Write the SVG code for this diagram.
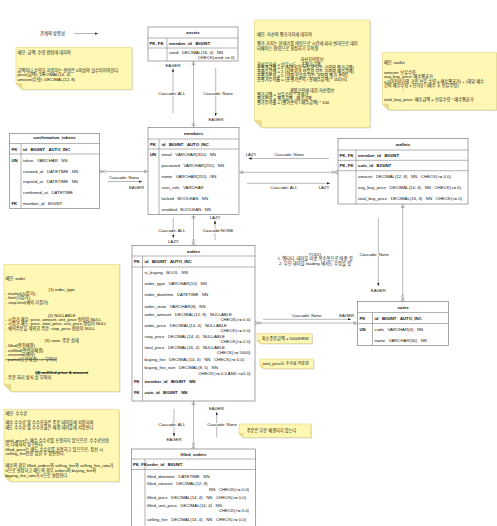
<svg xmlns="http://www.w3.org/2000/svg" width="497" height="526" viewBox="0 0 497 526" xml:space="preserve">
<style>
text{font-family:"Liberation Sans","Noto Sans CJK KR",sans-serif;font-size:4.3px;fill:#111;white-space:pre}
.n text{font-size:4.2px}
.b{font-weight:bold}
.h{font-weight:bold;text-anchor:middle}
.r{text-anchor:end}
.c{text-anchor:middle}
.s{text-decoration:line-through}
.box{fill:#fff;stroke:#7f7f7f;stroke-width:0.7}
.sep{stroke:#7f7f7f;stroke-width:0.6}
.con{stroke:#8a8a8a;stroke-width:0.6;fill:none}
.lbl{text-anchor:middle;paint-order:stroke;stroke:#fff;stroke-width:1.6px;stroke-linejoin:round}
.note{fill:#fff8b4;stroke:#dccb6e;stroke-width:0.5}
.fold{fill:#ebdc8c;stroke:#dccb6e;stroke-width:0.4}
.shd{fill:#000;opacity:0.13}
</style>
<defs>
<marker id="one" viewBox="-8 -3 9 6" refX="0" refY="0" markerWidth="9" markerHeight="6" markerUnits="userSpaceOnUse" orient="auto-start-reverse"><path d="M-2,-1.8V1.8M-3.6,-1.8V1.8" stroke="#7f7f7f" stroke-width="0.6" fill="none"/></marker>
<marker id="many" viewBox="-8 -3 9 6" refX="0" refY="0" markerWidth="9" markerHeight="6" markerUnits="userSpaceOnUse" orient="auto-start-reverse"><path d="M-3.5,0L0,-2M-3.5,0L0,2" stroke="#7f7f7f" stroke-width="0.6" fill="none"/><circle cx="-5" cy="0" r="1.2" fill="#fff" stroke="#7f7f7f" stroke-width="0.6"/></marker>
<marker id="arr" viewBox="0 0 4 3" refX="4" refY="1.5" markerWidth="3.2" markerHeight="2.4" markerUnits="userSpaceOnUse" orient="auto-start-reverse"><path d="M0,0L4,1.5L0,3Z" fill="#222"/></marker>
</defs>

<g id="notes" class="n">
<g id="note-amount">
<path class="shd" d="M17,48.5H133V90.5H23L17,84.5Z"/>
<path class="note" d="M16,47.5H132V89.5H22L16,83.5Z"/><path class="fold" d="M16,83.5H22V89.5Z"/>
<text x="17.5" y="53.8">메모: 금액, 수량 컬럼에 대하여</text>
<text x="17.5" y="72.2">금액이나 수량을 저장하는 컬럼은 0이상의 실수이어야한다.</text>
<text x="17.5" y="76.3">price(금액): DECIMAL(14, 4)</text>
<text x="17.5" y="80.5">amount(수량): DECIMAL(12, 8)</text>
</g>
<g id="note-asset">
<path class="shd" d="M255.5,21H371V128.5H262.5L255.5,121.5Z"/>
<path class="note" d="M254.5,20H370V127.5H261.5L254.5,120.5Z"/><path class="fold" d="M254.5,120.5H261.5V127.5Z"/>
<text x="257" y="35.8">메모: 자산의 평가가치에 대하여</text>
<text x="257" y="44.8">평가 가치는 현재가를 바탕으로 시간에 따라 변하므로 데이</text>
<text x="257" y="49.8">터베이스 컬럼으로 설정하기 부적절</text>
<text class="c" x="312" y="60.8">자산요약정보</text>
<text x="257" y="65.5">총보유자산 = 보유시드 + 총평가금액</text>
<text x="257" y="69.4">총평가금액 = Σ (사용자가 보유한 모든 코인의 평가금액)</text>
<text x="257" y="73.3">총매수금액 = Σ (사용자가 보유한 모든 코인의 매수금액)</text>
<text x="257" y="77.2">총평가손익 = Σ (현재 보유한 모든 코인의 평가 손익)</text>
<text x="257" y="81.1">총평가수익률 = (총평가손익 / 총매수금액) * 100(%)</text>
<text class="c" x="312" y="91.5">개별코인에 대한 자산정보</text>
<text x="257" y="95.8">평가금액 = 보유수량 * 현재가</text>
<text x="257" y="100">평가손익 = 평가금액 - 매수금액</text>
<text x="257" y="104.2">평가수익률 = (평가손익 / 매수금액) * 100</text>
</g>
<g id="note-wallet">
<path class="shd" d="M383.5,53.5H497.5V111H389.5L383.5,105Z"/>
<path class="note" d="M382.5,52.5H496.5V110H388.5L382.5,104Z"/><path class="fold" d="M382.5,104H388.5V110Z"/>
<text x="384" y="64.2">메모: wallet</text>
<text x="384" y="74.2">amount: 보유수량</text>
<text x="384" y="78.3">avg_buy_price: 매수평균가</text>
<text x="384" y="82.5">= [(이전까지의 코인 보유 수량 x 매수평균가) + (해당 매수</text>
<text x="384" y="86.6">건의 매수수량 x 단가)] / (매수 후 보유수량)</text>
<text class="c" x="403" y="90.8">↑</text>
<text x="384" y="100.5">total_buy_price: 매수금액 = 보유수량 * 매수평균가</text>
</g>
<g id="note-order">
<path class="shd" d="M5,265.5H120.5V392.5H12L5,385.5Z"/>
<path class="note" d="M4,264.5H119.5V391.5H11L4,384.5Z"/><path class="fold" d="M4,384.5H11V391.5Z"/>
<text x="5.5" y="279.8">메모: order</text>
<text class="c" x="61.7" y="290.5">(1) order_type</text>
<text x="5.5" y="294.9">- market(시장가),</text>
<text x="5.5" y="299.3">- limit(지정가),</text>
<text x="5.5" y="303.8">- stop-limit(예약-지정가)</text>
<text class="c" x="61.7" y="316.5">(2) NULLABLE</text>
<text x="5.5" y="320.8">- 시장가 매수: price, amount, unit_price 컬럼이 NULL</text>
<text x="5.5" y="325.2">- 시장가 매도: price, total_price, unit_price 컬럼이 NULL</text>
<text x="5.5" y="329.5">- 예약주문을 제외한 주문: stop_price 컬럼이 NULL</text>
<text class="c" x="61.7" y="342.2">(3) state: 주문 상태</text>
<text x="5.5" y="346.8">- filled(완전체결)</text>
<text x="5.5" y="351.5">- unfilled(완전미체결)</text>
<text x="5.5" y="356.3">- reserved(예약)</text>
<text class="s" x="5.5" y="361">- partial(부분체결) --&gt; 무의미</text>
<text class="c s b" x="61.7" y="374">(4) unfilled price &amp; amount</text>
<text x="5.5" y="378.5">- 주문 처리 방식 상 무의미</text>
</g>
<g id="note-fee">
<path class="shd" d="M5,410.5H120V482.5H11L5,476.5Z"/>
<path class="note" d="M4,409.5H119V481.5H10L4,475.5Z"/><path class="fold" d="M4,475.5H10V481.5Z"/>
<text x="5.5" y="414.8">메모: 수수료</text>
<text x="5.5" y="424.2">매수 수수료 및 수수료율은 주문 테이블에 저장되며</text>
<text x="5.5" y="428.8">매도 수수료 및 수수료율은 체결 테이블에 저장된다</text>
<text x="5.5" y="441.5">total_price는 매수 수수료를 포함하지 않으므로, 수수료만큼</text>
<text x="5.5" y="445.8">이 더해져서 청구된다.</text>
<text x="5.5" y="450.5">filled_price는 매도 수수료를 포함하고 있으므로, 정산 시</text>
<text x="5.5" y="454.8">selling_fee만큼 감한 후 정산된다.</text>
<text x="5.5" y="467.2">매수의 경우 filled_orders의 selling_fee와 selling_fee_rate가</text>
<text x="5.5" y="471.8">0으로 설정되고 매도의 경우 orders의 buying_fee와</text>
<text x="5.5" y="476.5">buying_fee_rate가 0으로 설정된다.</text>
</g>
<g id="note-min">
<path class="shd" d="M258,334.5H313V344.5H261L258,341.5Z"/>
<path class="note" d="M257,333.5H312V343.5H260L257,340.5Z"/><path class="fold" d="M257,340.5H260V343.5Z"/>
<text x="261.7" y="339.6">최소주문금액 = 5000KRW</text>
</g>
<g id="note-total">
<path class="shd" d="M261,360H314.5V369.5H264L261,366.5Z"/>
<path class="note" d="M260,359H313.5V368.5H263L260,365.5Z"/><path class="fold" d="M260,365.5H263V368.5Z"/>
<text x="262.5" y="365.2" style="font-size:4px">total_price는 수수료 미포함</text>
</g>
<g id="note-partial">
<path class="shd" d="M240,425H312V438.5H244L240,434.5Z"/>
<path class="note" d="M239,424H311V437.5H243L239,433.5Z"/><path class="fold" d="M239,433.5H243V437.5Z"/>
<text x="246.7" y="431.8">주문은 부분 체결되지 않는다</text>
</g>
</g>

<g id="texts">
<text x="40" y="35">관계의 방향성</text>
<text class="c" x="315" y="255.5">TODO</text>
<text class="c" x="315" y="260">1. 엔티티, 테이블 이름 복수형으로 바꿀 것</text>
<text class="c" x="315" y="264.5">2. 부모 테이블 loading 에서도 수정할 것</text>
</g>

<g id="connectors">
<path class="con" d="M74,33.5H98" marker-end="url(#arr)"/>
<!-- assets - members -->
<path class="con" d="M193.5,61V127.5" marker-start="url(#one)" marker-end="url(#one)"/>
<path class="con" d="M173,68.5V113" marker-start="url(#arr)"/>
<text class="lbl" x="173" y="66.5">EAGER</text>
<text class="lbl" x="172" y="94.5">Cascade: ALL</text>
<path class="con" d="M215.7,68V116" marker-end="url(#arr)"/>
<text class="lbl" x="218" y="94.5">Cascade: None</text>
<text class="lbl" x="216" y="120.8">EAGER</text>
<!-- confirmation_tokens - members -->
<path class="con" d="M99.5,171.5H148" marker-start="url(#many)" marker-end="url(#one)"/>
<path class="con" d="M108,181.5H142" marker-end="url(#arr)"/>
<text class="lbl" x="124" y="179">Cascade: None</text>
<text class="lbl" x="136.5" y="188.8">EAGER</text>
<!-- members - wallets -->
<path class="con" d="M239,172.3H338" marker-start="url(#one)" marker-end="url(#many)"/>
<path class="con" d="M248.5,158.5H329" marker-start="url(#arr)"/>
<text class="lbl" x="251" y="155.6">LAZY</text>
<text class="lbl" x="289" y="155.6">Cascade: None</text>
<path class="con" d="M247,183.3H330" marker-end="url(#arr)"/>
<text class="lbl" x="284" y="188.8">Cascade: ALL</text>
<text class="lbl" x="324" y="188.8">LAZY</text>
<!-- members - orders -->
<path class="con" d="M193.5,214.5V245.5" marker-start="url(#one)" marker-end="url(#many)"/>
<path class="con" d="M173.3,218V238" marker-end="url(#arr)"/>
<text class="lbl" x="172" y="232.2">Cascade: ALL</text>
<text class="lbl" x="173.3" y="243.3">LAZY</text>
<path class="con" d="M215,220.5V240" marker-start="url(#arr)"/>
<text class="lbl" x="215" y="218.6">LAZY</text>
<text class="lbl" x="218" y="231.5">Cascade:NONE</text>
<!-- wallets - coins -->
<path class="con" d="M402.7,204V301.5" marker-start="url(#one)" marker-end="url(#many)"/>
<path class="con" d="M378.3,218V286" marker-end="url(#arr)"/>
<text class="lbl" x="374.2" y="255.5">Cascade: None</text>
<text class="lbl" x="378.3" y="291.6">EAGER</text>
<!-- orders - coins -->
<path class="con" d="M255,323H357.5" marker-start="url(#many)" marker-end="url(#one)"/>
<path class="con" d="M263,319.3H351" marker-end="url(#arr)"/>
<text class="lbl" x="306.7" y="316.6">Cascade: None</text>
<text class="lbl" x="346.7" y="316.6">EAGER</text>
<!-- orders - filled_orders -->
<path class="con" d="M193.5,401V449" marker-start="url(#one)" marker-end="url(#many)"/>
<path class="con" d="M174,409V436.5" marker-end="url(#arr)"/>
<text class="lbl" x="172" y="425.5">Cascade: ALL</text>
<text class="lbl" x="174" y="441">EAGER</text>
<path class="con" d="M216.7,412V437.3" marker-start="url(#arr)"/>
<text class="lbl" x="216.5" y="410.3">EAGER</text>
<text class="lbl" x="222" y="425.5">Cascade: None</text>
</g>

<g id="assets">
<rect class="box" x="148" y="27" width="90" height="34"/>
<path class="sep" d="M148,38H238M148,48H238M167,38V61"/>
<text class="h" x="193" y="33.5">assets</text>
<text class="b" x="149.5" y="44.5">PK, FK</text>
<text class="b" x="169" y="44.5">member_id   BIGINT</text>
<text x="169" y="53.5">seed   DECIMAL(16, 4)   NN</text>
<text class="r" x="234.5" y="58.5">CHECK(seed &gt;= 0)</text>
</g>

<g id="members">
<rect class="box" x="148" y="127.5" width="91" height="87"/>
<path class="sep" d="M148,139H239M148,149H239M159,139V214.5"/>
<text class="h" x="193.5" y="134.5">members</text>
<text class="b" x="150" y="145.5">PK</text>
<text class="b" x="161.5" y="145.5">id   BIGINT   AUTO_INC</text>
<text class="b" x="150" y="155.8">UN</text>
<text x="161.5" y="155.8">email   VARCHAR(320)   NN</text>
<text x="161.5" y="167.2">password   VARCHAR(255)   NN</text>
<text x="161.5" y="178.2">name   VARCHAR(255)   NN</text>
<text x="161.5" y="189.2">user_role   VARCHAR</text>
<text x="161.5" y="200.2">locked   BOOLEAN   NN</text>
<text x="161.5" y="210.8">enabled   BOOLEAN   NN</text>
</g>

<g id="confirmation_tokens">
<rect class="box" x="9.5" y="133.5" width="90" height="75"/>
<path class="sep" d="M9.5,143.5H99.5M9.5,154H99.5M21,143.5V208.5"/>
<text class="h" x="54.5" y="139.3">confirmation_tokens</text>
<text class="b" x="11.5" y="150.5">PK</text>
<text class="b" x="23" y="150.5">id   BIGINT   AUTO_INC</text>
<text class="b" x="11.5" y="161.5">UN</text>
<text x="23" y="161.5">token   VARCHAR   NN</text>
<text x="23" y="172.5">created_at   DATETIME   NN</text>
<text x="23" y="183.2">expired_at   DATETIME   NN</text>
<text x="23" y="193.8">confirmed_at   DATETIME</text>
<text class="b" x="11.5" y="204.8">FK</text>
<text x="23" y="204.8">member_id   BIGINT</text>
</g>

<g id="wallets">
<rect class="box" x="338" y="138.5" width="130" height="65.5"/>
<path class="sep" d="M338,150H468M338,160.3H468M338,170.7H468M356,150V204"/>
<text class="h" x="403" y="145.8">wallets</text>
<text class="b" x="339.5" y="156.5">PK, FK</text>
<text class="b" x="358" y="156.5">member_id   BIGINT</text>
<text class="b" x="339.5" y="166.8">PK, FK</text>
<text class="b" x="358" y="166.8">coin_id   BIGINT</text>
<text x="358" y="178">amount   DECIMAL(12, 8)   NN   CHECK(&gt;= 0.0)</text>
<text x="358" y="188.8">avg_buy_price   DECIMAL(14, 4)   NN   CHECK(&gt;= 0)</text>
<text x="358" y="199.8">total_buy_price   DECIMAL(16, 4)   NN   CHECK(&gt;= 0)</text>
</g>

<g id="coins">
<rect class="box" x="357.5" y="301.5" width="91" height="44"/>
<path class="sep" d="M357.5,312.5H448.5M357.5,323.5H448.5M372.5,312.5V345.5"/>
<text class="h" x="403" y="309.2">coins</text>
<text class="b" x="359.5" y="319.8">PK</text>
<text class="b" x="374.5" y="319.8">id   BIGINT   AUTO_INC</text>
<text class="b" x="359.5" y="330.8">UN</text>
<text x="374.5" y="330.8">code   VARCHAR(4)   NN</text>
<text x="374.5" y="341.5">name   VARCHAR(30)   NN</text>
</g>

<g id="orders">
<rect class="box" x="132" y="245.5" width="123" height="155.5"/>
<path class="sep" d="M132,256H255M132,267H255M142.5,256V401"/>
<text class="h" x="193.5" y="252.5">orders</text>
<text class="b" x="134" y="263.2">PK</text>
<text class="b" x="144.5" y="263.2">id   BIGINT   AUTO_INC</text>
<text x="144.5" y="274.2">is_buying   BOOL   NN</text>
<text x="144.5" y="284.8">order_type   VARCHAR(10)   NN</text>
<text x="144.5" y="295.8">order_datetime   DATETIME   NN</text>
<text x="144.5" y="307.5">order_state   VARCHAR(8)   NN</text>
<text x="144.5" y="315.8">order_amount   DECIMAL(12, 8)   NULLABLE</text>
<text class="r" x="250.5" y="321.2">CHECK(&gt;= 0.0)</text>
<text x="144.5" y="326.5">order_price   DECIMAL(14, 4)   NULLABLE</text>
<text class="r" x="250.5" y="331.6">CHECK(&gt;= 0.0)</text>
<text x="144.5" y="337.5">stop_price   DECIMAL(14, 4)   NULLABLE</text>
<text class="r" x="250.5" y="342.6">CHECK(&gt;= 0.0)</text>
<text x="144.5" y="348.5">total_price   DECIMAL(16, 4)   NULLABLE</text>
<text class="r" x="250.5" y="353.8">CHECK(&gt;= 5000)</text>
<text x="144.5" y="360.8">buying_fee   DECIMAL(14, 4)   NN   CHECK(&gt;= 0.0)</text>
<text x="144.5" y="369.2">buying_fee_rate   DECIMAL(8, 5)   NN</text>
<text class="r" x="250.5" y="374.5">CHECK(&gt;= 0.0 AND &lt;=1.0)</text>
<text class="b" x="134" y="382.8">FK</text>
<text class="b" x="144.5" y="382.8">member_id   BIGINT   NN</text>
<text class="b" x="134" y="394.2">FK</text>
<text class="b" x="144.5" y="394.2">coin_id   BIGINT   NN</text>
</g>

<g id="filled_orders">
<rect class="box" x="131.5" y="449" width="124" height="90"/>
<path class="sep" d="M131.5,459H255.5M131.5,469.5H255.5M145,459V539"/>
<text class="h" x="193.5" y="455.5">filled_orders</text>
<text class="b" x="133" y="465.8">PK, FK</text>
<text class="b" x="147" y="465.8">order_id   BIGINT</text>
<text x="147" y="477.5">filled_datetime   DATETIME   NN</text>
<text x="147" y="484.8">filled_amount   DECIMAL(12, 8)</text>
<text class="r" x="249" y="490.5">NN   CHECK(&gt;= 0.0)</text>
<text x="147" y="498.8">filled_price   DECIMAL(14, 4)   NN   CHECK(&gt;= 0.0)</text>
<text x="147" y="506.8">filled_unit_price   DECIMAL(14, 4)   NN</text>
<text class="r" x="249" y="511.5">CHECK(&gt;= 0.0)</text>
<text x="147" y="520.5">selling_fee   DECIMAL(14, 4)   NN   CHECK(&gt;= 0.0)</text>
</g>
</svg>
